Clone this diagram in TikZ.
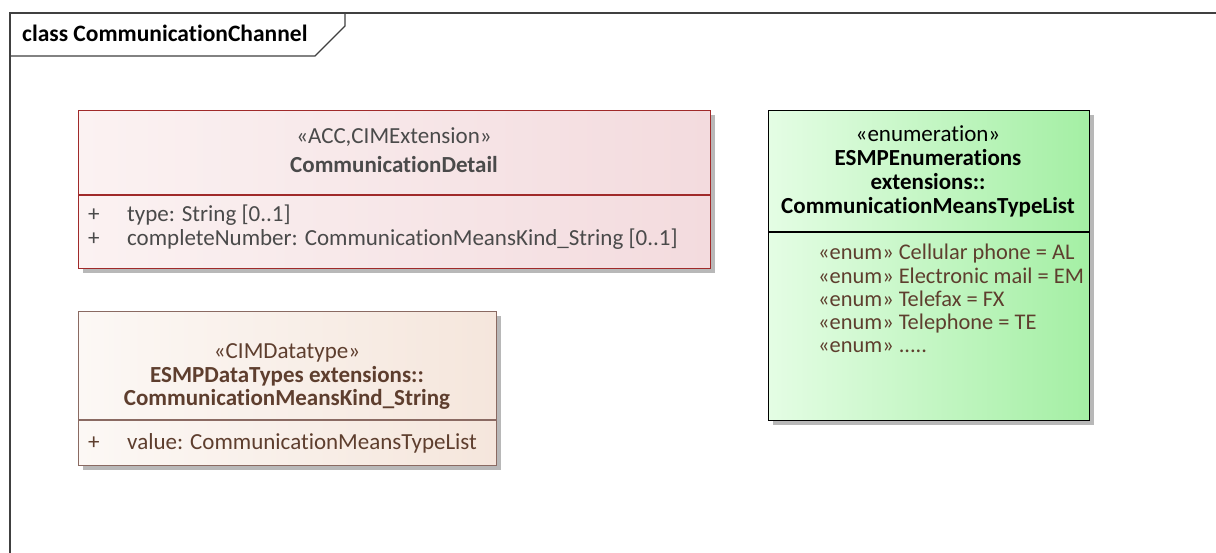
\documentclass[tikz,border=0pt]{standalone}
\usepackage{fontspec}
\setmainfont{Carlito}[Ligatures=NoCommon]
\definecolor{cdL}{HTML}{FBF2F2}
\definecolor{cdR}{HTML}{F3DBDE}
\definecolor{cdB}{HTML}{A02A2A}
\definecolor{dtL}{HTML}{FCF8F5}
\definecolor{dtR}{HTML}{F5E6DC}
\definecolor{dtB}{HTML}{8A6A62}
\definecolor{enL}{HTML}{E4FDE4}
\definecolor{enR}{HTML}{A4EFA4}
\definecolor{cdT}{HTML}{4A4A4A}
\definecolor{dtT}{HTML}{5E3E2E}
\begin{document}
\begin{tikzpicture}[x=1pt,y=-1pt,
  frameline/.style={draw=black!75,line width=1.4pt},
  shadowbox/.style={fill=black!28,draw=none},
  cdbox/.style={draw=cdB,line width=1.2pt,left color=cdL,right color=cdR,anchor=north west,inner sep=0pt},
  dtbox/.style={draw=dtB,line width=1.2pt,left color=dtL,right color=dtR,anchor=north west,inner sep=0pt},
  enbox/.style={draw=black,line width=1.2pt,left color=enL,right color=enR,anchor=north west,inner sep=0pt},
  hdr/.style={font=\fontsize{23}{26}\selectfont,inner sep=0pt,anchor=base},
  hdrb/.style={font=\fontsize{23}{26}\selectfont\bfseries,inner sep=0pt,anchor=base},
  attr/.style={font=\fontsize{23}{26}\selectfont,inner sep=0pt,anchor=base west},
  enumitem/.style={font=\fontsize{22.4}{26}\selectfont,inner sep=0pt,anchor=base west},
  cdtext/.style={text=cdT},
  dttext/.style={text=dtT},
]
\useasboundingbox (0,0) rectangle (1216,553);
\fill[white] (0,0) rectangle (1216,553);
% frame
\draw[frameline] (10,553) -- (10,13) -- (1216,13);
\draw[frameline] (10,56) -- (315,56) -- (345,26) -- (345,13);
\node[font=\fontsize{23.5}{26}\selectfont\bfseries,anchor=base west,inner sep=0pt] (title) at (22,42) {class CommunicationChannel};

% CommunicationDetail
\fill[shadowbox] (83,115) rectangle (715,273);
\node[cdbox,minimum width=632pt,minimum height=158pt] (cd) at (78,110) {};
\draw[draw=cdB,line width=1.2pt] (78,195) -- (710,195);
\node[hdr,cdtext] (cdst) at (394,144) {«ACC,CIMExtension»};
\node[hdrb,cdtext] (cdname) at (394,173) {CommunicationDetail};
\node[attr,cdtext] (cdp1) at (88,222) {+};
\node[attr,cdtext] (cda1) at (127,222) {type: String [0..1]};
\node[attr,cdtext] (cdp2) at (88,246) {+};
\node[attr,cdtext] (cda2) at (127,246) {completeNumber: CommunicationMeansKind\_String [0..1]};

% CommunicationMeansKind_String
\fill[shadowbox] (83,316) rectangle (501,470);
\node[dtbox,minimum width=418pt,minimum height=154pt] (dt) at (78,311) {};
\draw[draw=dtB,line width=1.2pt] (78,420) -- (496,420);
\node[hdr,dttext] (dtst) at (287,359) {«CIMDatatype»};
\node[hdrb,dttext] (dtn1) at (287,382) {ESMPDataTypes extensions::};
\node[hdrb,dttext] (dtn2) at (287,405) {CommunicationMeansKind\_String};
\node[attr,dttext] (dtp1) at (88,449) {+};
\node[attr,dttext] (dta1) at (127,449) {value: CommunicationMeansTypeList};

% Enumeration
\fill[shadowbox] (773,115) rectangle (1094,425);
\node[enbox,minimum width=321pt,minimum height=310pt] (en) at (768,110) {};
\draw[draw=black,line width=1.2pt] (768,232) -- (1089,232);
\node[hdr] (enst) at (928,142) {«enumeration»};
\node[hdrb] (enn1) at (928,166) {ESMPEnumerations};
\node[hdrb] (enn2) at (928,190) {extensions::};
\node[hdrb] (enn3) at (928,214) {CommunicationMeansTypeList};
\node[enumitem,dttext] (ene1) at (818,260) {«enum» Cellular phone = AL};
\node[enumitem,dttext] (ene2) at (818,284) {«enum» Electronic mail = EM};
\node[enumitem,dttext] (ene3) at (818,307) {«enum» Telefax = FX};
\node[enumitem,dttext] (ene4) at (818,330) {«enum» Telephone = TE};
\node[enumitem,dttext] (ene5) at (818,353) {«enum» .....};
\end{tikzpicture}
\end{document}
